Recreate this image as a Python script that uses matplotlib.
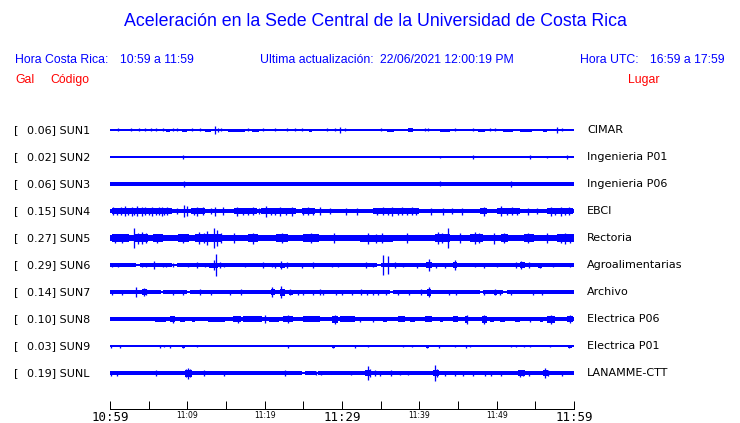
import matplotlib
matplotlib.use("Agg")
import matplotlib.pyplot as plt

# station table
codes = ["SUN1", "SUN2", "SUN3", "SUN4", "SUN5", "SUN6", "SUN7", "SUN8", "SUN9", "SUNL"]
gal = ["0.06", "0.02", "0.06", "0.15", "0.27", "0.29", "0.14", "0.10", "0.03", "0.19"]
places = ["CIMAR", "Ingenieria P01", "Ingenieria P06", "EBCI", "Rectoria",
          "Agroalimentarias", "Archivo", "Electrica P06", "Electrica P01", "LANAMME-CTT"]

# trace envelopes (minutes after 10:59, half width in px)
base_half = [0.6, 0.6, 1.6, 2.0, 2.9, 1.7, 1.9, 1.9, 0.6, 1.8]

gaps = [
    [], [], [], [], [],
    [(3.3, 3.9), (8.0, 8.6), (34.5, 35.1)],
    [(6.6, 6.9), (10.0, 10.3), (36.2, 36.6), (47.8, 48.2), (50.8, 51.3)],
    [], [],
    [(24.8, 25.2), (26.6, 26.9)],
]

bursts = [
    [(7.3, 7.8, 1.5), (9.3, 9.9, 1.5), (12.3, 13.1, 1.5), (15.3, 17.5, 1.5), (18.3, 19.3, 1.5),
     (25.7, 26.1, 1.5), (35.8, 36.7, 1.5), (38.5, 39.2, 2), (42.7, 44.0, 1.5), (47.6, 48.5, 1.5),
     (50.8, 52.1, 1.5), (53.0, 54.6, 1.5), (56.0, 56.5, 1.5)],
    [],
    [],
    [(0.2, 8.0, 2.9), (10.5, 12.3, 2.8), (16.0, 19.0, 2.8), (19.5, 24.0, 2.8), (24.8, 26.5, 2.8),
     (34.0, 40.0, 2.7), (47.8, 48.7, 3.2), (50.0, 53.0, 2.6), (56.5, 59.9, 3.2)],
    [(0.2, 2.5, 3.6), (3.2, 4.9, 4.2), (5.5, 6.8, 3.6), (8.8, 10.2, 3.6), (11.0, 14.5, 4.2),
     (17.8, 19.1, 3.8), (21.5, 23.0, 3.6), (25.0, 27.0, 3.6), (32.3, 36.6, 3.5), (42.0, 44.0, 4.2),
     (46.6, 48.2, 4.2), (50.5, 51.5, 3.8), (53.5, 54.8, 3.8), (57.8, 60.0, 3.8)],
    [(12.8, 14.0, 2.5), (22.0, 22.6, 2.5), (40.9, 41.6, 3), (44.4, 44.9, 3), (53.0, 53.6, 3),
     (55.3, 55.8, 2.5)],
    [(4.2, 4.8, 3), (20.8, 21.3, 3), (22.0, 22.6, 3.5), (23.1, 23.6, 2.5), (41.0, 41.5, 3.5),
     (49.6, 50.0, 2.5)],
    [(0.0, 2.8, 2.4), (3.7, 4.7, 2.4), (5.8, 7.3, 2.5), (7.8, 8.4, 3), (9.1, 9.7, 2.5),
     (10.6, 11.0, 2.5), (12.7, 14.9, 2.5), (15.9, 17.0, 3), (17.2, 19.6, 2.8), (20.5, 21.8, 2.5),
     (22.4, 23.7, 3.2), (25.0, 27.2, 2.8), (28.7, 29.5, 3.5), (29.7, 31.7, 2.8), (35.3, 35.8, 2.5),
     (37.3, 38.1, 3), (38.8, 39.4, 2.5), (40.7, 41.6, 3), (42.7, 43.1, 2.5), (44.4, 45.0, 3),
     (45.9, 46.3, 3.5), (48.1, 48.7, 3.5), (49.1, 49.6, 2.5), (50.4, 51.1, 2.5), (52.4, 53.0, 2.5),
     (55.6, 56.0, 2.5), (56.5, 57.5, 3.5), (59.1, 59.9, 3)],
    [(9.3, 9.7, 1.5), (28.7, 29.1, 1.5), (40.8, 41.2, 1.5), (59.2, 59.7, 1.5)],
    [(9.7, 10.6, 3.5), (33.0, 33.8, 3.2), (41.8, 42.5, 3), (52.8, 53.6, 3), (56.0, 56.6, 3)],
]

spikes = [
    [(1.0, 1.5), (2.7, 1.5), (3.7, 1.5), (4.5, 1.5), (5.3, 1.5), (6.0, 1.5), (6.8, 1.5), (8.2, 1.5),
     (8.6, 1.5), (10.6, 1.5), (11.6, 1.5), (13.6, 4), (14.0, 2), (14.4, 1.5), (17.9, 1.5),
     (19.8, 1.5), (21.3, 1.5), (22.9, 1.5), (23.9, 1.5), (24.8, 1.5), (28.0, 1.5), (29.1, 1.5),
     (29.7, 3), (30.4, 1.5), (35.0, 1.5), (40.7, 1.5), (41.1, 1.5), (44.6, 1.5), (46.9, 1.5),
     (49.1, 1.5), (49.8, 1.5), (57.8, 3), (58.5, 1.5)],
    [(9.5, 2), (42.7, 1), (47.0, 2), (54.3, 2), (56.5, 1), (59.1, 2)],
    [(9.6, 3), (42.7, 2.5), (51.8, 3)],
    [(0.4, 4), (0.9, 3.5), (1.4, 4), (1.9, 5), (2.3, 3.5), (2.8, 4.5), (3.1, 3.5), (3.5, 5),
     (4.1, 4.5), (4.5, 4), (5.0, 3.5), (5.4, 4.5), (5.9, 3.5), (6.3, 4), (6.7, 4.5), (7.0, 3.5),
     (7.4, 4), (8.6, 3), (9.6, 6), (10.0, 5), (10.8, 3.5), (11.3, 4.5), (12.0, 4), (13.0, 3),
     (13.6, 4.5), (14.6, 4), (16.4, 4.5), (17.2, 3.5), (17.8, 3.5), (18.5, 4), (19.3, 3),
     (20.2, 5.5), (20.8, 3.5), (21.4, 3.5), (22.0, 4.5), (22.8, 3.5), (23.5, 4.5), (25.0, 3.5),
     (25.6, 4), (26.2, 3.5), (27.2, 4), (28.4, 3), (30.5, 3.5), (32.0, 3.5), (34.5, 3.5),
     (35.3, 4), (35.9, 3.5), (36.5, 4.5), (37.2, 3.5), (37.8, 4), (38.4, 3.5), (39.0, 4),
     (39.6, 3.5), (41.5, 3.5), (43.0, 3.5), (44.2, 3), (45.5, 3.5), (48.3, 4.5), (50.6, 5),
     (51.3, 3.5), (52.0, 4), (52.6, 3.5), (54.0, 3.5), (55.2, 3), (57.0, 4.5), (57.6, 3.5),
     (58.3, 4.5), (58.9, 3.5), (59.3, 4)],
    [(0.6, 4.5), (1.5, 4.5), (3.1, 10), (3.6, 5.5), (4.2, 6), (4.6, 5), (6.1, 4.5), (9.4, 4.5),
     (11.5, 6), (12.1, 5), (12.6, 7), (13.4, 10), (13.9, 8), (14.3, 5), (16.0, 5), (18.5, 5.5),
     (22.3, 5), (26.0, 5), (29.0, 5), (33.4, 5.5), (34.4, 4.5), (35.2, 5), (38.4, 5), (42.4, 6),
     (42.9, 5), (43.7, 10), (45.2, 5), (47.2, 6), (47.7, 5), (49.7, 5.5), (51.0, 5), (54.0, 5),
     (56.5, 5), (58.3, 4.5), (58.8, 5.5), (59.5, 4.5)],
    [(0.2, 2), (1.0, 2), (4.1, 2), (4.7, 2), (5.7, 4), (6.9, 2), (7.3, 2), (8.2, 2), (10.1, 2),
     (11.2, 3), (12.3, 2), (13.4, 5), (13.7, 11), (14.2, 3), (14.7, 2), (17.5, 2), (19.8, 3),
     (20.9, 2), (21.3, 2.5), (22.1, 4), (22.9, 3), (24.8, 2.5), (26.3, 3), (28.7, 2), (29.5, 2),
     (33.1, 3), (34.0, 2), (35.3, 10), (36.0, 9), (36.9, 3), (37.9, 2), (39.7, 2.5), (41.3, 6),
     (42.2, 2.5), (43.3, 2.5), (44.6, 5), (47.2, 2), (48.3, 2.5), (50.0, 2), (52.5, 3),
     (53.2, 4), (54.2, 3), (55.6, 2.5), (57.3, 2), (59.5, 2)],
    [(0.2, 2.5), (1.5, 2.5), (3.4, 5), (4.4, 4), (4.7, 3), (8.2, 2.5), (9.4, 2.5), (11.6, 3),
     (13.1, 2.5), (15.5, 2.5), (17.0, 3), (21.0, 5), (22.1, 6), (23.3, 3), (24.3, 2.5), (24.9, 2.5),
     (26.3, 2.5), (27.2, 3), (27.6, 2.5), (29.2, 2.5), (30.0, 2.5), (31.3, 2.5), (32.4, 3),
     (33.2, 2.5), (34.0, 2.5), (34.7, 2.5), (35.7, 2.5), (37.3, 2.5), (38.7, 2.5), (40.2, 3),
     (41.2, 5), (43.8, 2.5), (44.8, 2.5), (48.3, 2.5), (49.8, 3), (50.4, 2.5), (51.9, 2.5),
     (54.7, 2.5), (55.8, 2.5)],
    [(8.1, 3.5), (16.5, 3.5), (20.0, 4), (23.0, 4), (29.1, 4.5), (32.3, 2.5), (34.0, 2.5),
     (46.1, 4.5), (48.4, 4.5), (54.3, 2.5), (57.0, 4.5), (59.5, 4)],
    [(0.1, 1.5), (1.3, 1.5), (6.5, 1.5), (7.0, 1), (7.8, 1.5), (9.5, 1.5), (11.3, 1), (23.0, 1.5),
     (28.9, 1.5), (31.7, 1.5), (33.4, 1), (37.9, 1), (39.0, 1), (41.0, 1.5), (42.6, 1.5),
     (44.6, 1), (46.0, 1.5), (46.6, 1), (51.9, 1), (52.5, 1), (53.5, 1), (54.3, 1), (56.9, 1),
     (59.4, 1.5)],
    [(0.1, 2.5), (0.9, 2.5), (6.0, 3), (9.8, 4), (10.1, 5.5), (10.4, 4), (12.1, 3), (14.8, 2.5),
     (22.6, 3), (26.7, 2), (27.3, 2), (31.2, 2), (33.3, 7), (33.6, 4), (34.3, 3), (34.9, 2.5),
     (36.4, 3), (37.5, 2), (38.5, 2), (42.0, 8), (42.3, 4), (43.3, 2.5), (44.6, 2.5), (45.6, 2.5),
     (47.0, 2.5), (48.5, 2.5), (49.3, 2.5), (50.6, 2.5), (53.0, 3.5), (53.4, 3), (54.2, 2.5),
     (56.3, 5), (56.6, 3), (58.5, 2.5)],
]

tick_minutes = list(range(0, 61, 5))
tick_labels = ["10:59", "", "11:09", "", "11:19", "", "11:29", "", "11:39", "", "11:49", "", "11:59"]

BLUE = "#0000ff"
RED = "#ff0000"
W, H = 740, 423
PT = 0.72  # points per pixel at dpi 100

fig = plt.figure(figsize=(W / 100, H / 100), dpi=100)
ax = fig.add_axes([110 / W, (H - 409) / H, 464 / W, (409 - 112) / H])
ax.set_xlim(0, 60)
ax.set_ylim(409, 112)


def ftext(x, y, s, **kw):
    fig.text(x / W, 1 - y / H, s, va="center", **kw)


# traces
for i, code in enumerate(codes):
    yc = 130 + 27 * i
    # base band, thinner inside the gaps
    edges = [0.0]
    for a, b in gaps[i]:
        edges += [a, b]
    edges.append(60.0)
    for k in range(0, len(edges), 2):
        ax.fill_between([edges[k], edges[k + 1]], yc - base_half[i], yc + base_half[i],
                        color=BLUE, lw=0)
    for a, b in gaps[i]:
        ax.fill_between([a, b], yc - 0.7, yc + 0.7, color=BLUE, lw=0)
    for a, b, h in bursts[i]:
        ax.fill_between([a, b], yc - h, yc + h, color=BLUE, lw=0)
    if spikes[i]:
        xs = [s[0] for s in spikes[i]]
        lo = [yc - s[1] for s in spikes[i]]
        hi = [yc + s[1] for s in spikes[i]]
        ax.vlines(xs, lo, hi, color=BLUE, lw=1.3 * PT)

    ftext(14, yc, "[", fontsize=8, family="DejaVu Sans")
    ftext(27, yc, gal[i] + "] " + code, fontsize=8, family="DejaVu Sans")
    ftext(587, yc, places[i], fontsize=8, family="DejaVu Sans")

# time axis
for side in ["top", "left", "right"]:
    ax.spines[side].set_visible(False)
ax.spines["bottom"].set_linewidth(1.0 * PT)
ax.set_yticks([])
ax.set_xticks(tick_minutes)
ax.set_xticklabels(tick_labels)
ax.tick_params(axis="x", direction="in", length=8 * PT, width=1.0 * PT, pad=1.5)
for lab in ax.get_xticklabels():
    if lab.get_text() in ("10:59", "11:29", "11:59"):
        lab.set_fontfamily("DejaVu Sans Mono")
        lab.set_fontsize(9)
    else:
        lab.set_fontfamily("DejaVu Sans")
        lab.set_fontsize(5.5)

# header
ftext(375, 22, "Aceleración en la Sede Central de la Universidad de Costa Rica",
      ha="center", fontsize=12.8, color=BLUE, family="Liberation Sans")
ftext(15, 60, "Hora Costa Rica:", fontsize=8.8, color=BLUE, family="Liberation Sans")
ftext(120, 60, "10:59 a 11:59", fontsize=8.8, color=BLUE, family="Liberation Sans")
ftext(260, 60, "Ultima actualización:", fontsize=8.8, color=BLUE, family="Liberation Sans")
ftext(380, 60, "22/06/2021 12:00:19 PM", fontsize=8.8, color=BLUE, family="Liberation Sans")
ftext(580, 60, "Hora UTC:", fontsize=8.8, color=BLUE, family="Liberation Sans")
ftext(650, 60, "16:59 a 17:59", fontsize=8.8, color=BLUE, family="Liberation Sans")
ftext(15, 80, "Gal", fontsize=8.8, color=RED, family="Liberation Sans")
ftext(50, 80, "Código", fontsize=8.8, color=RED, family="Liberation Sans")
ftext(628, 80, "Lugar", fontsize=8.8, color=RED, family="Liberation Sans")

fig.savefig("out.png", dpi=100)
